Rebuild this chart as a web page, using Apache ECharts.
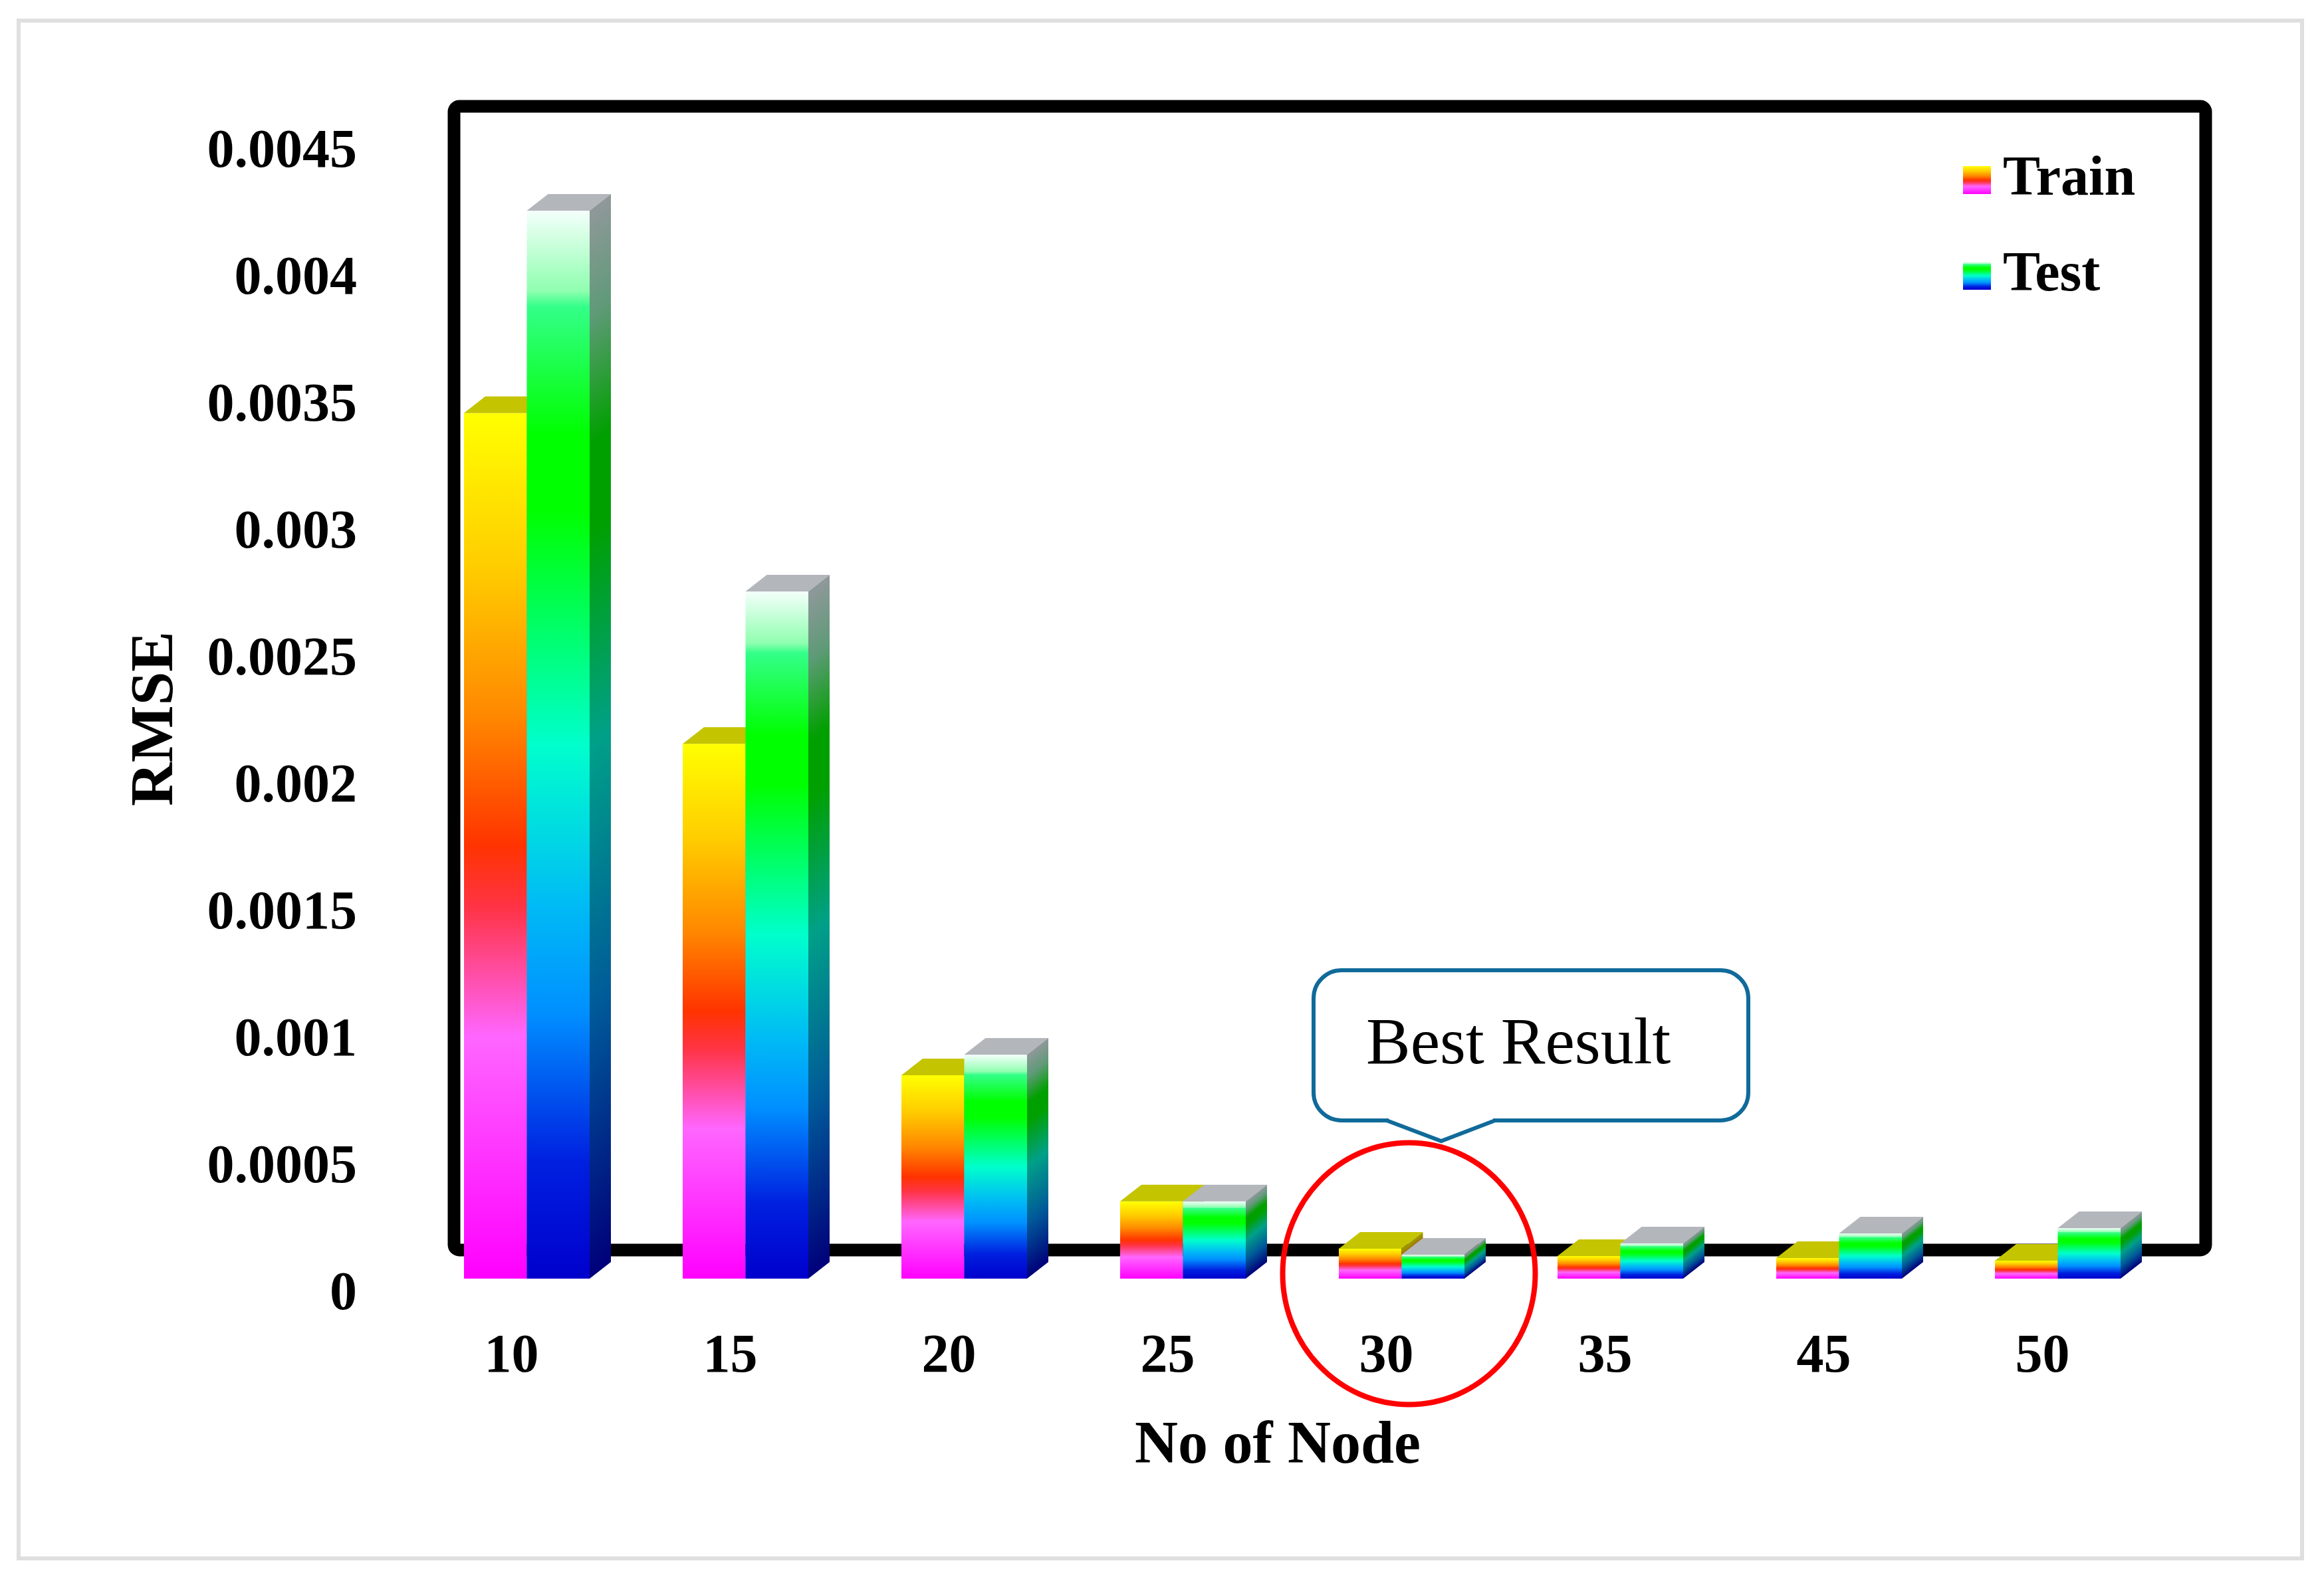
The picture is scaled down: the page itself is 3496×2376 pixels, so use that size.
<!DOCTYPE html>
<html>
<head>
<meta charset="utf-8">
<title>RMSE by number of nodes</title>
<script src="https://cdn.jsdelivr.net/npm/echarts@6/dist/echarts.min.js"></script>
<style>
  html, body { margin: 0; padding: 0; background: #fff; }
  #chart { width: 3496px; height: 2376px; }
</style>
</head>
<body>
<div id="chart"></div>
<script>
const nodeCounts = ['10', '15', '20', '25', '30', '35', '45', '50'];
const trainRmse = [0.00341, 0.002107, 0.000801, 0.000304, 0.000118, 0.000089, 0.000081, 0.000071];
const testRmse = [0.004207, 0.002707, 0.000882, 0.000304, 0.000094, 0.000139, 0.000178, 0.000199];

const SERIF = 'Liberation Serif';
const DEPTH_X = 32;
const DEPTH_Y = 25;
const BAR_SHARE = 94.5 / 329;

const trainFront = [
  [0, '#ffff00'], [0.18, '#ffcc00'], [0.35, '#ff8800'], [0.5, '#ff3300'],
  [0.57, '#ff3344'], [0.72, '#ff66ff'], [1, '#ff00ff']
];
const trainSide = [
  [0, '#a0a000'], [0.35, '#a05800'], [0.5, '#a02000'], [0.72, '#a040a0'], [1, '#a000a0']
];
const testFront = [
  [0, '#f4fffb'], [0.075, '#90ffb0'], [0.09, '#33ff88'], [0.21, '#00ff00'], [0.28, '#00ff00'],
  [0.5, '#00ffcc'], [0.65, '#00bbf5'], [0.75, '#0090ff'], [0.89, '#0020e0'], [1, '#0000cc']
];
const testSide = [
  [0, '#90989a'], [0.1, '#5f9a78'], [0.22, '#00a000'], [0.3, '#00a000'], [0.5, '#00a088'],
  [0.75, '#005a99'], [1, '#00007a']
];

const vertical = (stops) => new echarts.graphic.LinearGradient(0, 0, 0, 1,
  stops.map(([offset, color]) => ({ offset, color })));

// isolines on the side face run parallel to its slanted top edge
const slanted = (stops, x, y, h) => {
  const k = (DEPTH_X * h) / (DEPTH_X * DEPTH_X + DEPTH_Y * DEPTH_Y);
  return new echarts.graphic.LinearGradient(x, y, x + DEPTH_Y * k, y + DEPTH_X * k,
    stops.map(([offset, color]) => ({ offset, color })), true);
};

const box3d = (slot, front, side, topColor) => (params, api) => {
  const top = api.coord([api.value(0), api.value(1)]);
  const base = api.coord([api.value(0), 0]);
  const w = api.size([1, 0])[0] * BAR_SHARE;
  const x = slot === 0 ? top[0] - w : top[0];
  const r = x + w;
  return {
    type: 'group',
    children: [
      {
        type: 'rect',
        shape: { x, y: top[1], width: w, height: base[1] - top[1] },
        style: { fill: vertical(front) }
      },
      {
        type: 'polygon',
        shape: { points: [[x, top[1]], [r, top[1]], [r + DEPTH_X, top[1] - DEPTH_Y], [x + DEPTH_X, top[1] - DEPTH_Y]] },
        style: { fill: topColor }
      },
      {
        type: 'polygon',
        shape: { points: [[r, top[1]], [r + DEPTH_X, top[1] - DEPTH_Y], [r + DEPTH_X, base[1] - DEPTH_Y], [r, base[1]]] },
        style: { fill: slanted(side, r, top[1], base[1] - top[1]) }
      }
    ]
  };
};

const chart = echarts.init(document.getElementById('chart'));

chart.setOption({
  animation: false,
  backgroundColor: '#fff',
  grid: { left: 628, top: 205, width: 2632, height: 1719 },
  legend: {
    orient: 'vertical',
    left: 2953,
    top: 226,
    padding: 0,
    itemWidth: 42,
    itemHeight: 42,
    itemGap: 54,
    icon: 'rect',
    textStyle: { fontFamily: SERIF, fontWeight: 'bold', fontSize: 84, lineHeight: 90, color: '#000', padding: [0, 0, 0, 13] },
    data: [
      { name: 'Train', itemStyle: { color: vertical(trainFront) } },
      { name: 'Test', itemStyle: { color: vertical(testFront) } }
    ]
  },
  xAxis: {
    type: 'category',
    data: nodeCounts,
    name: 'No of Node',
    nameLocation: 'middle',
    nameGap: 209,
    nameTextStyle: { fontFamily: SERIF, fontWeight: 'bold', fontSize: 90, color: '#000', padding: [0, 44, 0, 0] },
    axisLine: { show: false },
    axisTick: { show: false },
    axisLabel: { fontFamily: SERIF, fontWeight: 'bold', fontSize: 82, color: '#000', margin: 78, padding: [0, 46, 0, 0] }
  },
  yAxis: {
    type: 'value',
    min: 0,
    max: 0.0045,
    interval: 0.0005,
    name: 'RMSE',
    nameLocation: 'middle',
    nameGap: 347,
    nameTextStyle: { fontFamily: SERIF, fontWeight: 'bold', fontSize: 91, color: '#000', padding: [0, 34, 0, 0] },
    axisLine: { show: false },
    axisTick: { show: false },
    splitLine: { show: false },
    // labels sit a little below their tick in the reference
    axisLabel: { fontFamily: SERIF, fontWeight: 'bold', fontSize: 82, color: '#000', margin: 91, verticalAlign: 'top', lineHeight: 50 }
  },
  series: [
    {
      name: 'Train',
      type: 'custom',
      clip: false,
      z: 3,
      encode: { x: 0, y: 1 },
      renderItem: box3d(0, trainFront, trainSide, '#c4c400'),
      data: trainRmse.map((v, i) => [i, v])
    },
    {
      name: 'Test',
      type: 'custom',
      clip: false,
      z: 4,
      encode: { x: 0, y: 1 },
      renderItem: box3d(1, testFront, testSide, '#b3b6bb'),
      data: testRmse.map((v, i) => [i, v])
    }
  ],
  graphic: [
    {
      type: 'rect',
      z: 0,
      shape: { x: 28, y: 31, width: 3435, height: 2314 },
      style: { fill: 'none', stroke: '#dfdfdf', lineWidth: 6 }
    },
    {
      type: 'rect',
      z: 0,
      shape: { x: 683, y: 160, width: 2635, height: 1721, r: 8 },
      style: { fill: 'none', stroke: '#000', lineWidth: 19 }
    },
    // callout: rounded box, its bottom edge wiped under the pointer
    {
      type: 'rect',
      z: 10,
      shape: { x: 1976, y: 1460, width: 654, height: 226, r: 42 },
      style: { fill: 'none', stroke: '#106a9a', lineWidth: 6 }
    },
    {
      type: 'line',
      z: 11,
      shape: { x1: 2089, y1: 1686, x2: 2246, y2: 1686 },
      style: { stroke: '#fff', lineWidth: 8 }
    },
    {
      type: 'polyline',
      z: 12,
      shape: { points: [[2086, 1686], [2168, 1717], [2249, 1686]] },
      style: { fill: 'none', stroke: '#106a9a', lineWidth: 6 }
    },
    {
      type: 'text',
      z: 12,
      x: 2055,
      y: 1574,
      style: { text: 'Best Result', fontFamily: SERIF, fontSize: 100, fill: '#000', verticalAlign: 'middle' }
    },
    {
      type: 'ellipse',
      z: 12,
      shape: { cx: 2119.5, cy: 1916.5, rx: 190, ry: 197 },
      style: { fill: 'none', stroke: '#f00', lineWidth: 8 }
    }
  ]
});
</script>
</body>
</html>
